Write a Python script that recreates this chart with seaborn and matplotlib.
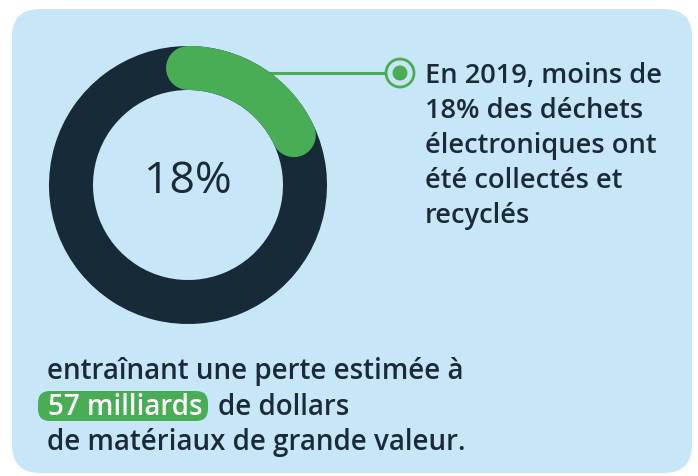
import numpy as np
import matplotlib.pyplot as plt
import seaborn as sns
from matplotlib.patches import FancyBboxPatch, Circle

share = 18
rest = 100 - share
center_label = "18%"
side_lines = ["En 2019, moins de", "18% des déchets", "électroniques ont",
              "été collectés et", "recyclés"]
bottom_line1 = "entraînant une perte estimée à"
highlight = "57 milliards"
bottom_line2 = "de dollars"
bottom_line3 = "de matériaux de grande valeur."

navy = "#172a38"
green = "#48ad55"
bg = "#c7e7f8"
txt = "#1b2a38"

sns.set_theme(style="white")
plt.rcParams['font.family'] = ['Open Sans', 'DejaVu Sans']

W, H = 698, 476
fig = plt.figure(figsize=(W / 100, H / 100), dpi=100)
fig.patch.set_facecolor("white")

ax = fig.add_axes([0, 0, 1, 1])
ax.set_xlim(0, W)
ax.set_ylim(H, 0)
ax.axis("off")

ax.add_patch(FancyBboxPatch((12 + 28, 9 + 28), 680 - 56, 464 - 56,
                            boxstyle="round,pad=28", fc=bg, ec="none", zorder=0))

# connector and marker
ax.plot([250, 386], [73, 73], color=green, lw=2.2, zorder=1)
ax.add_patch(Circle((400, 73), 14, fc=bg, ec=green, lw=2, zorder=2))
ax.add_patch(Circle((400, 73), 7.5, fc=green, ec="none", zorder=3))

for i, line in enumerate(side_lines):
    ax.text(425, 83 + i * 35, line, fontsize=19.6, color=txt, va="baseline",
            ha="left", fontweight="semibold")

# pill behind the highlighted amount
ax.add_patch(FancyBboxPatch((38 + 12, 391 + 12), 170 - 24, 30 - 24,
                            boxstyle="round,pad=12", fc=green, ec="none", zorder=1))
ax.text(47, 379, bottom_line1, fontsize=20, color=txt, va="baseline",
        fontweight="semibold")
ax.text(48, 415, highlight, fontsize=20, color="white", va="baseline",
        fontweight="semibold", zorder=2)
ax.text(218, 415, bottom_line2, fontsize=20, color=txt, va="baseline",
        fontweight="semibold")
ax.text(47, 450, bottom_line3, fontsize=20, color=txt, va="baseline",
        fontweight="semibold")

# donut
cx, cy, r = 188, 185, 139
ax2 = fig.add_axes([(cx - r) / W, (H - cy - r) / H, 2 * r / W, 2 * r / H])
ring = 44 / r
ax2.pie([share, rest], colors=[navy, navy], startangle=90, counterclock=False,
        radius=1, wedgeprops=dict(width=ring, edgecolor=navy, linewidth=0))
theta = np.deg2rad(np.linspace(90, 90 - share * 3.6, 100))
rm = 1 - ring / 2
ax2.plot(rm * np.cos(theta), rm * np.sin(theta), color=green,
         lw=44 * 0.72, solid_capstyle="round", zorder=3)
ax2.set_xlim(-1, 1)
ax2.set_ylim(-1, 1)
ax2.set_aspect("auto")
ax2.axis("off")
ax2.text(0, 0.02, center_label, fontsize=32, color=txt, ha="center", va="center")

fig.savefig("out.png", dpi=100)
